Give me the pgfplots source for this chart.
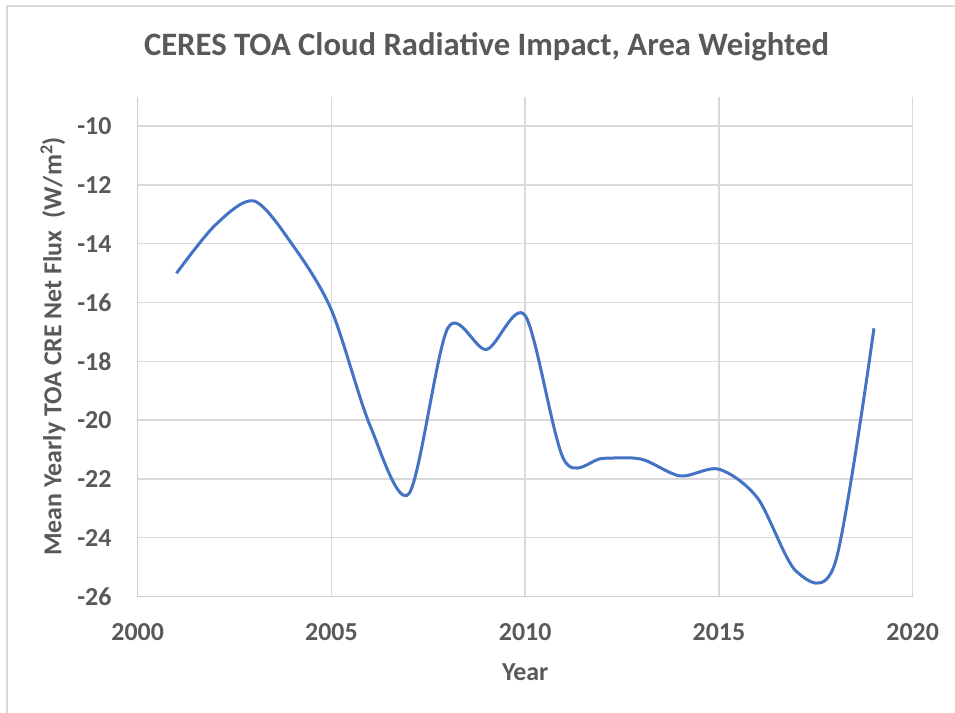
\documentclass[border=0pt]{standalone}
\usepackage{pgfplots}
\pgfplotsset{compat=1.18}
\usepackage{fontspec}
\setmainfont{Carlito}
\definecolor{txt}{HTML}{595959}
\definecolor{grid}{HTML}{D9D9D9}
\definecolor{ln}{HTML}{4472C4}
\definecolor{frame}{HTML}{D9D9D9}
\begin{document}
\begin{tikzpicture}[x=1bp,y=1bp]
\path[use as bounding box] (0,0) rectangle (955,-713);
\draw[frame,line width=2bp] (6.5,-713) -- (6.5,-6.5) -- (955,-6.5);
\node[anchor=base,text=txt,font=\fontsize{32.8}{38}\selectfont\bfseries] at (486.5,-55.5) {CERES TOA Cloud Radiative Impact, Area Weighted};
\begin{axis}[
  at={(137.7bp,-596.5bp)}, anchor=south west,
  scale only axis, width=775bp, height=499.9bp,
  xmin=2000, xmax=2020, ymin=-26, ymax=-9,
  xtick={2000,2005,2010,2015,2020},
  ytick={-26,-24,-22,-20,-18,-16,-14,-12,-10},
  /pgf/number format/assume math mode=true,
  xticklabel style={/pgf/number format/1000 sep={}, anchor=north, inner sep=0pt, yshift=-26.5bp},
  yticklabel style={anchor=east, inner sep=0pt, xshift=-26bp},
  tick label style={text=txt, font=\fontsize{26}{30}\selectfont\bfseries},
  major tick length=0pt,
  axis x line*=bottom, axis y line*=left,
  axis line style={draw=grid!80!black!60, line width=1.5bp},
  grid=major,
  major grid style={draw=grid, line width=1.5bp},
  xlabel={Year},
  ylabel={Mean Yearly TOA CRE Net Flux\ \ (W/m\textsuperscript{2})},
  label style={text=txt, font=\fontsize{26}{30}\selectfont\bfseries},
  xlabel style={at={(axis description cs:0.5,-0.151)}, anchor=center},
  ylabel style={at={(axis description cs:-0.1093,0.5)}, anchor=center},
  clip=false,
]
\addplot[ln, line width=3bp, smooth, no markers] coordinates {
(2001,-15.01) (2002,-13.37) (2003,-12.55) (2004,-14.05) (2005,-16.26)
(2006,-20.2) (2007,-22.5) (2008,-16.88) (2009,-17.6) (2010,-16.45)
(2011,-21.35) (2012,-21.3) (2013,-21.33) (2014,-21.9) (2015,-21.67)
(2016,-22.66) (2017,-25.15) (2018,-24.85) (2019,-16.88)
};
\end{axis}
\end{tikzpicture}
\end{document}
